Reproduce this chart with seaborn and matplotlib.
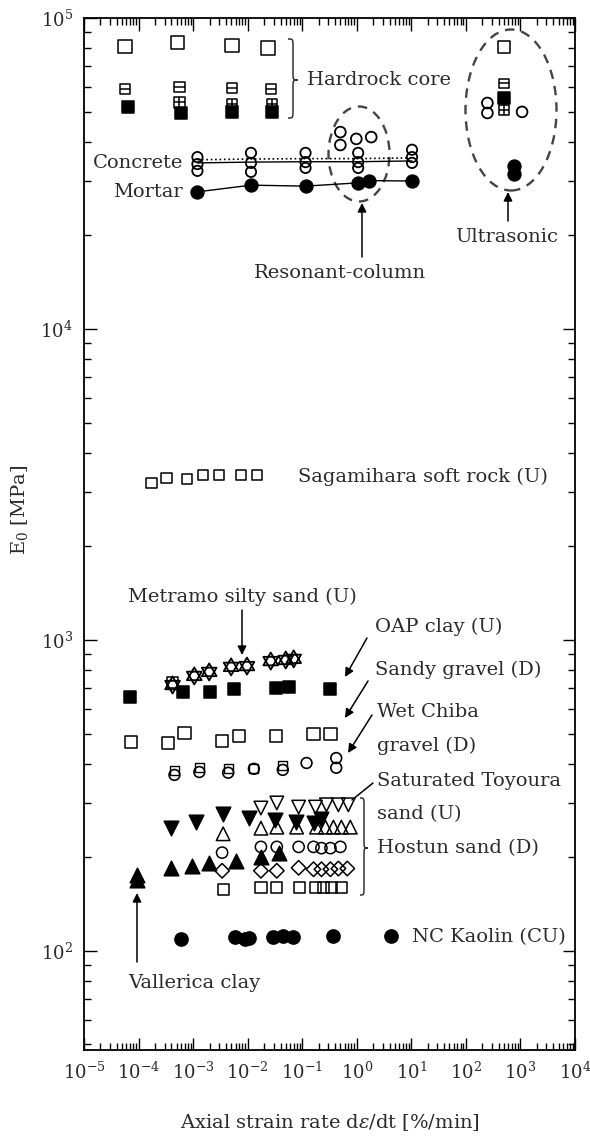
import numpy as np
import pandas as pd
import matplotlib
matplotlib.use("Agg")
import matplotlib.pyplot as plt
import seaborn as sns
from matplotlib.path import Path
from matplotlib.patches import Ellipse, PathPatch
from matplotlib.ticker import LogLocator, FuncFormatter, NullFormatter

# ---------------- data ----------------
# Hardrock core
hr_open_x = [5.6e-5, 5.2e-4, 5.2e-3, 0.0234]
hr_open_y = [80900, 83300, 81500, 80000]
hr_bar_x = [5.6e-5, 5.6e-4, 5.2e-3, 0.0265]
hr_bar_y = [59200, 60000, 59600, 59200]
hr_cross_x = [5.6e-4, 5.2e-3, 0.0277]
hr_cross_y = [53500, 53000, 53000]
hr_fill_x = [6.3e-5, 6.1e-4, 5.2e-3, 0.0277]
hr_fill_y = [51800, 49500, 49900, 49900]

# Concrete (open circles) and lines
conc_x = [1.2e-3, 1.2e-3, 1.2e-3, 0.0115, 0.0115, 0.0115, 0.115, 0.115, 0.115,
          1.06, 1.06, 1.06, 10.3, 10.3, 10.3]
conc_y = [35700, 33900, 32240, 36840, 34200, 32000, 36840, 34400, 32950,
          36840, 34400, 32950, 37700, 35700, 34200]
conc_line_x = [1.2e-3, 0.0115, 0.115, 1.06, 10.3]
conc_line_y = [34200, 34400, 34500, 34500, 34700]
conc_dot_y = [35000, 35200, 35300, 35300, 35500]

# Resonant-column (open circles)
rc_x = [0.5, 0.5, 0.98, 1.84]
rc_y = [42960, 39050, 40850, 41400]

# Mortar (filled circles)
mort_x = [1.2e-3, 0.0115, 0.115, 1.06, 1.69, 10.3]
mort_y = [27600, 29000, 28800, 29500, 30000, 29900]

# Ultrasonic
us_sq_x = [500]
us_open_y = [80700]
us_bar_y = [61700]
us_fill_y = [55300]
us_cross_y = [50600]
us_circ_x = [248, 248, 1070]
us_circ_y = [53300, 49500, 49900]
us_fcirc_x = [771, 771]
us_fcirc_y = [33400, 31500]

# Sagamihara soft rock (U)
sag_x = [1.73e-4, 3.25e-4, 7.8e-4, 1.53e-3, 3.0e-3, 7.5e-3, 0.0148]
sag_y = [3200, 3320, 3300, 3400, 3400, 3400, 3400]

# Metramo silty sand (U)
met_x = [4.2e-4, 1.05e-3, 1.97e-3, 4.97e-3, 9.7e-3, 0.0265, 0.0499, 0.0697]
met_y = [716, 766, 789, 819, 824, 855, 862, 869]
met_sq_x = [4.2e-4]
met_sq_y = [730]

# OAP clay (U)
oap_x = [6.9e-5, 6.6e-4, 2.06e-3, 5.6e-3, 0.0327, 0.0565, 0.329]
oap_y = [656, 681, 681, 695, 701, 706, 695]

# Sandy gravel (D)
sg_x = [7.2e-5, 3.5e-4, 6.9e-4, 3.4e-3, 6.9e-3, 0.0327, 0.161, 0.329]
sg_y = [470, 467, 502, 473, 491, 491, 499, 499]

# Wet Chiba gravel (D)
wc_x = [4.55e-4, 1.3e-3, 4.4e-3, 0.013, 0.044, 0.12, 0.42, 0.42]
wc_y = [368, 376, 374, 385, 382, 402, 417, 388]
wc_sq_x = [4.55e-4, 1.3e-3, 4.4e-3, 0.013, 0.044]
wc_sq_y = [380, 388, 386, 387, 394]

# Saturated Toyoura sand (U) - filled down triangles
ty_x = [4.0e-4, 1.14e-3, 3.55e-3, 0.0106, 0.0314, 0.0759, 0.161, 0.225]
ty_y = [248, 260, 276, 268, 264, 260, 258, 266]

# Hostun sand (D)
hd_x = [0.0175, 0.0342, 0.086, 0.175, 0.278, 0.46, 0.7]
hd_y = [288, 299, 290, 290, 295, 295, 295]
hu_x = [3.55e-3, 0.0175, 0.0342, 0.079, 0.183, 0.267, 0.373, 0.522, 0.76]
hu_y = [238, 248, 250, 250, 250, 250, 250, 250, 250]
hc_x = [3.4e-3, 0.0175, 0.0342, 0.086, 0.161, 0.225, 0.329, 0.5]
hc_y = [207, 216, 216, 216, 216, 214, 214, 216]
hdm_x = [3.4e-3, 0.0175, 0.0342, 0.086, 0.161, 0.225, 0.329, 0.46, 0.67]
hdm_y = [181, 181, 181, 185, 183, 183, 183, 184, 184]
hs_x = [3.55e-3, 0.0175, 0.0342, 0.0895, 0.175, 0.245, 0.343, 0.52]
hs_y = [158, 160, 160, 160, 160, 160, 160, 160]

# filled up triangles
fu_x = [4.0e-4, 9.7e-4, 1.97e-3, 6.1e-3, 0.0175, 0.037]
fu_y = [185, 188, 192, 195, 200, 207]

# Vallerica clay
val_x = [9.2e-5, 9.2e-5]
val_y = [176, 169]

# NC Kaolin (CU)
kao_x = [6.1e-4, 5.9e-3, 8.9e-3, 0.0106, 0.0289, 0.044, 0.067, 0.373, 4.25]
kao_y = [109, 111, 109, 110, 111, 112, 111, 112, 112]

x_ticks = [1e-5, 1e-4, 1e-3, 1e-2, 1e-1, 1e0, 1e1, 1e2, 1e3, 1e4]
y_ticks = [1e2, 1e3, 1e4, 1e5]

# ---------------- style ----------------
sns.set_theme(style="ticks")
plt.rcParams["font.family"] = ["DejaVu Serif"]
plt.rcParams["mathtext.fontset"] = "dejavuserif"
TXT = "#2a2a2a"

W, H = 590, 1137
L, R, T, B = 84, 575, 18, 1050
fig = plt.figure(figsize=(W / 100, H / 100), dpi=100)
ax = fig.add_axes([L / W, 1 - B / H, (R - L) / W, (B - T) / H])
ax.set_xscale("log")
ax.set_yscale("log")
ax.set_xlim(1e-5, 1e4)
ax.set_ylim(48, 1e5)

# custom markers
M, Ln, C = Path.MOVETO, Path.LINETO, Path.CLOSEPOLY
sq_bar = Path([(-1, -1), (1, -1), (1, 1), (-1, 1), (-1, -1), (-1, 0), (1, 0)],
              [M, Ln, Ln, Ln, C, M, Ln])
sq_cross = Path([(-1, -1), (1, -1), (1, 1), (-1, 1), (-1, -1), (-1, 0), (1, 0), (0, -1), (0, 1)],
                [M, Ln, Ln, Ln, C, M, Ln, M, Ln])
hexa = Path([(0, 1), (-0.866, -0.5), (0.866, -0.5), (0, 1),
             (0, -1), (-0.866, 0.5), (0.866, 0.5), (0, -1)],
            [M, Ln, Ln, C, M, Ln, Ln, C])


def pts(x, y, marker, s=70, fill=False, lw=1.1, z=3):
    df = pd.DataFrame({"x": x, "y": y})
    sns.scatterplot(data=df, x="x", y="y", marker=marker, s=s,
                    facecolor="black" if fill else "none",
                    edgecolor="black", linewidth=lw, ax=ax, zorder=z,
                    legend=False)


def line(x, y, **kw):
    df = pd.DataFrame({"x": x, "y": y})
    sns.lineplot(data=df, x="x", y="y", estimator=None, sort=True, ax=ax,
                 color="black", legend=False, **kw)


# lines
line(conc_line_x, conc_line_y, lw=1.0, zorder=2)
line(conc_line_x, conc_dot_y, lw=1.2, ls=":", zorder=2)
line(mort_x, mort_y, lw=1.0, zorder=2)

# hardrock core
pts(hr_open_x, hr_open_y, "s", s=95)
pts(hr_bar_x, hr_bar_y, sq_bar, s=55)
pts(hr_cross_x, hr_cross_y, sq_cross, s=55)
pts(hr_fill_x, hr_fill_y, "s", s=80, fill=True)

# concrete, resonant, mortar
pts(conc_x, conc_y, "o", s=55, lw=1.3)
pts(rc_x, rc_y, "o", s=60, lw=1.3)
pts(mort_x, mort_y, "o", s=85, fill=True)

# ultrasonic
pts(us_sq_x, us_open_y, "s", s=70)
pts(us_sq_x, us_bar_y, sq_bar, s=45)
pts(us_sq_x, us_fill_y, "s", s=70, fill=True)
pts(us_sq_x, us_cross_y, sq_cross, s=45)
pts(us_circ_x, us_circ_y, "o", s=60, lw=1.3)
pts(us_fcirc_x, us_fcirc_y, "o", s=85, fill=True)

# Sagamihara
pts(sag_x, sag_y, "s", s=55)

# Metramo, OAP, sandy gravel, Wet Chiba
pts(met_sq_x, met_sq_y, "s", s=70)
pts(met_x, met_y, hexa, s=150, lw=1.3)
pts(oap_x, oap_y, "s", s=80, fill=True)
pts(sg_x, sg_y, "s", s=80)
pts(wc_x, wc_y, "o", s=60, lw=1.2)
pts(wc_sq_x, wc_sq_y, "s", s=40, lw=1.0)

# Toyoura / Hostun / others
pts(hd_x, hd_y, "v", s=95)
pts(hu_x, hu_y, "^", s=95)
pts(ty_x, ty_y, "v", s=110, fill=True)
pts(hc_x, hc_y, "o", s=65)
pts(hdm_x, hdm_y, "D", s=55)
pts(hs_x, hs_y, "s", s=65)
pts(fu_x, fu_y, "^", s=110, fill=True)
pts(val_x, val_y, "^", s=110, fill=True)
pts(kao_x, kao_y, "o", s=90, fill=True)

# ---------------- axes formatting ----------------
ax.xaxis.set_major_locator(LogLocator(base=10, numticks=30))
ax.xaxis.set_minor_locator(LogLocator(base=10, subs=np.arange(2, 10), numticks=30))
ax.yaxis.set_major_locator(LogLocator(base=10, numticks=30))
ax.yaxis.set_minor_locator(LogLocator(base=10, subs=np.arange(2, 10), numticks=30))
ax.set_xticks(x_ticks)
ax.set_yticks(y_ticks)
fmt = FuncFormatter(lambda v, p: r"$10^{%d}$" % int(round(np.log10(v))))
ax.xaxis.set_major_formatter(fmt)
ax.yaxis.set_major_formatter(fmt)
ax.xaxis.set_minor_formatter(NullFormatter())
ax.yaxis.set_minor_formatter(NullFormatter())
ax.set_xlim(1e-5, 1e4)
ax.set_ylim(48, 1e5)
ax.tick_params(which="both", direction="in", top=True, right=True,
               color="black", width=1.0, labelcolor=TXT)
ax.tick_params(which="major", length=9, labelsize=13, pad=8)
ax.tick_params(which="minor", length=5)
for sp in ax.spines.values():
    sp.set_linewidth(1.3)
    sp.set_color("black")

ax.set_xlabel(r"Axial strain rate d$\varepsilon$/dt [%/min]", fontsize=14, color=TXT)
ax.set_ylabel(r"E$_0$ [MPa]", fontsize=14, color=TXT)
ax.xaxis.set_label_coords(0.5, (B - 1112) / (B - T))
ax.yaxis.set_label_coords((30 - L) / (R - L), (B - 510) / (B - T))


# ---------------- annotations ----------------
def A(px, py):
    return ((px - L) / (R - L), (B - py) / (B - T))


def txt(px, py, s, ha="left"):
    ax.text(*A(px, py), s, transform=ax.transAxes, ha=ha, va="center",
            fontsize=14, color=TXT, zorder=5)


def arrow(tail, head, head_on=True):
    ax.annotate("", xy=A(*head), xytext=A(*tail), xycoords="axes fraction",
                textcoords="axes fraction",
                arrowprops=dict(arrowstyle="-|>" if head_on else "-", color="black",
                                lw=1.1, mutation_scale=13, shrinkA=0, shrinkB=0))


def brace(x0, y0, y1, ym, w):
    xm = x0 + w / 2
    r = min(8, (ym - y0) / 3)
    vs = [(x0, y0), (xm, y0), (xm, y0), (xm, y0 + r), (xm, ym - r),
          (xm, ym), (xm, ym), (x0 + w, ym),
          (xm, ym), (xm, ym), (xm, ym + r), (xm, y1 - r),
          (xm, y1), (xm, y1), (x0, y1)]
    codes = [Path.MOVETO, Path.CURVE4, Path.CURVE4, Path.CURVE4, Path.LINETO,
             Path.CURVE4, Path.CURVE4, Path.CURVE4,
             Path.CURVE4, Path.CURVE4, Path.CURVE4, Path.LINETO,
             Path.CURVE4, Path.CURVE4, Path.CURVE4]
    vs = [A(*v) for v in vs]
    ax.add_patch(PathPatch(Path(vs, codes), transform=ax.transAxes, fill=False,
                           lw=1.1, edgecolor="#333333", clip_on=False))


def ell(cx, cy, w, h):
    ax.add_patch(Ellipse(A(cx, cy), w / (R - L), h / (B - T), transform=ax.transAxes,
                         fill=False, lw=1.7, ls=(0, (4, 3)), edgecolor="#444444"))


txt(307, 80, "Hardrock core")
brace(288, 39, 118, 80, 10)
txt(183, 163, "Concrete", ha="right")
txt(183, 192, "Mortar", ha="right")
ell(359, 154, 61, 95)
arrow((362, 257), (362, 203))
txt(340, 273, "Resonant-column", ha="center")
ell(511, 110, 91, 161)
arrow((508, 221), (508, 192))
txt(507, 237, "Ultrasonic", ha="center")
txt(298, 477, "Sagamihara soft rock (U)")
txt(242, 597, "Metramo silty sand (U)", ha="center")
arrow((242, 610), (242, 655))
txt(375, 627, "OAP clay (U)")
arrow((367, 638), (345, 677))
txt(375, 670, "Sandy gravel (D)")
arrow((368, 681), (345, 718))
txt(377, 712, "Wet Chiba")
txt(377, 746, "gravel (D)")
arrow((372, 715), (348, 753))
txt(377, 781, "Saturated Toyoura")
txt(377, 814, "sand (U)")
arrow((373, 783), (352, 800), head_on=False)
brace(360, 798, 895, 848, 8)
txt(377, 848, "Hostun sand (D)")
txt(412, 937, "NC Kaolin (CU)")
arrow((137, 962), (137, 893))
txt(128, 983, "Vallerica clay")

fig.savefig("out.png", dpi=100)
